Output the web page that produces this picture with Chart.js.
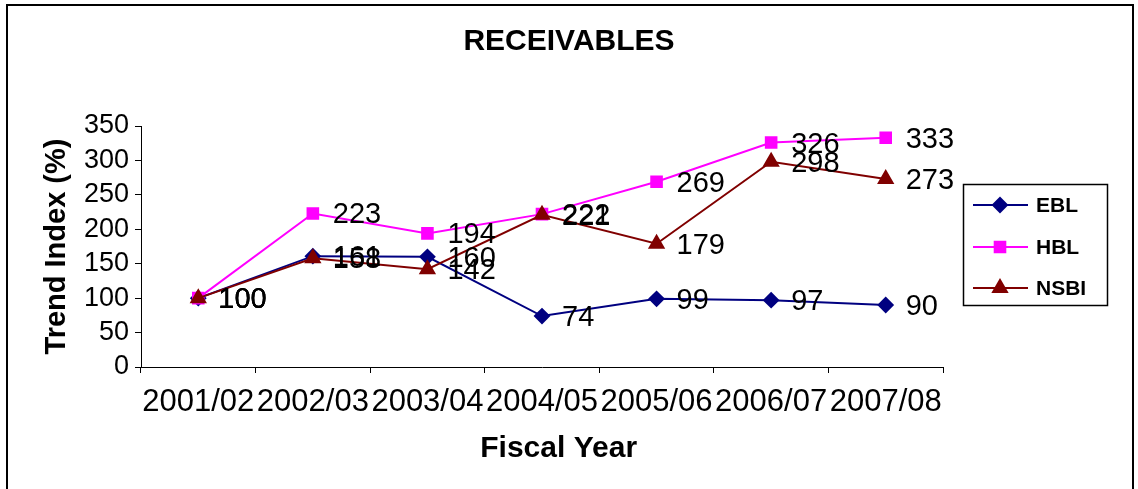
<!DOCTYPE html>
<html>
<head>
<meta charset="utf-8">
<script src="https://cdn.jsdelivr.net/npm/chart.js@4.4.1/dist/chart.umd.min.js"></script>
<style>
  html, body { margin: 0; padding: 0; background: #fff; }
  #wrap { position: relative; width: 1138px; height: 489px; }
  #frame { position: absolute; left: 6px; top: 4px; width: 1128px; height: 490px; border: 2px solid #000; box-sizing: border-box; pointer-events: none; }
  canvas { position: absolute; left: 0; top: 0; }
</style>
</head>
<body>
<div id="wrap">
  <canvas id="c" width="1138" height="489"></canvas>
  <div id="frame"></div>
</div>
<script>
const categories = ['2001/02', '2002/03', '2003/04', '2004/05', '2005/06', '2006/07', '2007/08'];
const ebl  = [100, 161, 160, 74, 99, 97, 90];
const hbl  = [100, 223, 194, 222, 269, 326, 333];
const nsbi = [100, 158, 142, 221, 179, 298, 273];
const yTicks = [0, 50, 100, 150, 200, 250, 300, 350];

const FONT = "'Liberation Sans', Arial, sans-serif";

const labelPlugin = {
  id: 'valueLabels',
  afterDatasetsDraw(chart) {
    const ctx = chart.ctx;
    ctx.save();
    ctx.font = '29px ' + FONT;
    ctx.fillStyle = '#000';
    ctx.textAlign = 'left';
    ctx.textBaseline = 'alphabetic';
    chart.data.datasets.forEach((ds, i) => {
      const meta = chart.getDatasetMeta(i);
      meta.data.forEach((pt, j) => {
        ctx.fillText(String(ds.data[j]), pt.x + 20, pt.y + 10);
      });
    });
    ctx.restore();
  }
};

const legendPlugin = {
  id: 'customLegend',
  afterDraw(chart) {
    const ctx = chart.ctx;
    ctx.save();
    ctx.strokeStyle = '#000';
    ctx.lineWidth = 1.5;
    ctx.strokeRect(963.5, 184.5, 144, 121);
    const ys = [205, 247, 288];
    chart.data.datasets.forEach((ds, i) => {
      const y = ys[i];
      ctx.strokeStyle = ds.borderColor;
      ctx.lineWidth = 2;
      ctx.beginPath();
      ctx.moveTo(973, y);
      ctx.lineTo(1028, y);
      ctx.stroke();
      ctx.fillStyle = ds.pointBackgroundColor;
      ctx.strokeStyle = ds.borderColor;
      Chart.helpers.drawPoint(ctx, { pointStyle: ds.pointStyle, radius: ds.pointRadius, rotation: 0, borderWidth: 1 }, 1000, y);
      ctx.fillStyle = '#000';
      ctx.font = 'bold 21px ' + FONT;
      ctx.textAlign = 'left';
      ctx.textBaseline = 'middle';
      ctx.fillText(ds.label, 1036, y + 1);
    });
    ctx.restore();
  }
};

new Chart(document.getElementById('c'), {
  type: 'line',
  data: {
    labels: categories,
    datasets: [
      { label: 'EBL', data: ebl, borderColor: '#000080', backgroundColor: '#000080', pointBackgroundColor: '#000080', pointBorderColor: '#000080', pointStyle: 'rectRot', pointRadius: 7, borderWidth: 2, order: 3, tension: 0 },
      { label: 'HBL', data: hbl, borderColor: '#FF00FF', backgroundColor: '#FF00FF', pointBackgroundColor: '#FF00FF', pointBorderColor: '#FF00FF', pointStyle: 'rect', pointRadius: 7.5, borderWidth: 2, order: 2, tension: 0 },
      { label: 'NSBI', data: nsbi, borderColor: '#800000', backgroundColor: '#800000', pointBackgroundColor: '#800000', pointBorderColor: '#800000', pointStyle: 'triangle', pointRadius: 8, borderWidth: 2, order: 1, tension: 0 }
    ]
  },
  options: {
    responsive: false,
    animation: false,
    devicePixelRatio: 1,
    layout: { padding: 0 },
    plugins: {
      legend: { display: false },
      tooltip: { enabled: false },
      title: {
        display: true,
        text: 'RECEIVABLES',
        color: '#000',
        font: { family: FONT, size: 30, weight: 'bold' },
        padding: { top: 24, bottom: 66 }
      }
    },
    scales: {
      x: {
        offset: true,
        grid: { display: true, drawOnChartArea: false, drawTicks: true, tickLength: 6, color: '#000', offset: true },
        border: { display: true, color: '#000', width: 1 },
        ticks: { color: '#000', font: { family: FONT, size: 31 }, padding: 11, maxRotation: 0, autoSkip: false },
        title: { display: true, text: '    Fiscal Year', color: '#000', font: { family: FONT, size: 30, weight: 'bold' }, padding: { top: 0, bottom: 22 } },
        afterFit(scale) { scale.height = 122; }
      },
      y: {
        min: 0,
        max: 350,
        afterBuildTicks(scale) { scale.ticks = yTicks.map(v => ({ value: v })); },
        grid: { display: true, drawOnChartArea: false, drawTicks: true, tickLength: 6, color: '#000' },
        border: { display: true, color: '#000', width: 1 },
        ticks: { color: '#000', font: { family: FONT, size: 27 }, padding: 6, autoSkip: false },
        title: { display: true, text: 'Trend Index (%)', color: '#000', font: { family: FONT, size: 29, weight: 'bold' }, padding: { top: 39.6, bottom: 0 } },
        afterFit(scale) { scale.width = 141; }
      },
      spacer: {
        type: 'linear',
        position: 'right',
        display: true,
        grid: { display: false, drawTicks: false },
        border: { display: false },
        ticks: { display: false },
        afterFit(scale) { scale.width = 195; }
      }
    }
  },
  plugins: [labelPlugin, legendPlugin]
});
</script>
</body>
</html>
